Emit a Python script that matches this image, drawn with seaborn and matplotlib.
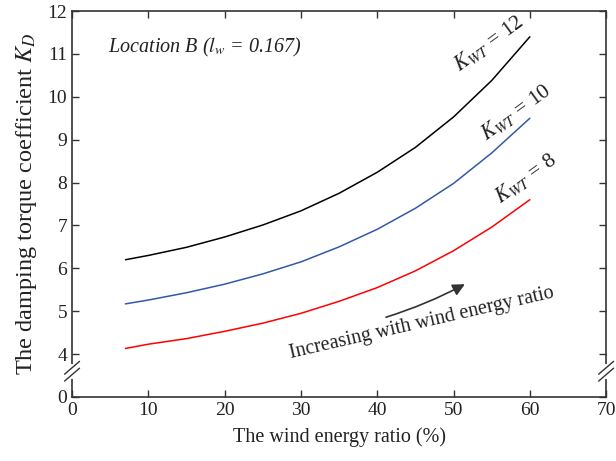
import numpy as np
import pandas as pd
import seaborn as sns
import matplotlib.pyplot as plt

# wind energy ratio (%)
ratio = [7, 10, 15, 20, 25, 30, 35, 40, 45, 50, 55, 60]
# damping torque coefficient K_D
kd_12 = [6.20, 6.30, 6.49, 6.73, 7.01, 7.34, 7.75, 8.24, 8.82, 9.53, 10.38, 11.40]
kd_10 = [5.17, 5.26, 5.43, 5.63, 5.87, 6.15, 6.50, 6.91, 7.40, 7.98, 8.69, 9.50]
kd_8 = [4.13, 4.23, 4.36, 4.53, 4.72, 4.95, 5.23, 5.55, 5.94, 6.41, 6.96, 7.60]
series_names = ['K_WT=12', 'K_WT=10', 'K_WT=8']
ytick_vals = [3, 4, 5, 6, 7, 8, 9, 10, 11, 12]
ytick_labels = ['0', '4', '5', '6', '7', '8', '9', '10', '11', '12']

df = pd.concat([
    pd.DataFrame({'ratio': ratio, 'kd': vals, 'series': name})
    for name, vals in zip(series_names, [kd_12, kd_10, kd_8])
], ignore_index=True)

sns.set_style('ticks')
plt.rcParams['font.family'] = ['Liberation Serif', 'DejaVu Serif']
plt.rcParams['mathtext.fontset'] = 'stix'

fig = plt.figure(figsize=(6.16, 4.61), dpi=100)
ax = fig.add_axes([0.117, 0.139, 0.867, 0.837])

palette = {'K_WT=12': '#000000', 'K_WT=10': '#3258a8', 'K_WT=8': '#ff0000'}
sns.lineplot(data=df, x='ratio', y='kd', hue='series', palette=palette,
             linewidth=1.1, ax=ax, legend=False)

ax.set_xlim(0, 70)
ax.set_ylim(3, 12)
ax.set_xticks(range(0, 71, 10))
ax.set_yticks(ytick_vals)
ax.set_yticklabels(ytick_labels)
ax.tick_params(direction='in', length=5, width=1, colors='#333333',
               labelcolor='#222222', labelsize=14, top=True, right=True)
for s in ax.spines.values():
    s.set_color('#333333')
    s.set_linewidth(1.2)
ax.set_xlabel('The wind energy ratio (%)', fontsize=14.5, color='#222222', labelpad=6)
ax.set_ylabel('The damping torque coefficient $K_D$', fontsize=17.5, color='#222222', labelpad=6)

# axis break marks on left and right spines
yb = 3.6
trans = ax.get_yaxis_transform()
for xs in (0, 1):
    ax.plot([xs, xs], [yb - 0.13, yb + 0.13], color='white', lw=3,
            transform=trans, clip_on=False, zorder=5)
    for dy in (-0.08, 0.08):
        ax.plot([xs - 0.014, xs + 0.014], [yb + dy - 0.15, yb + dy + 0.15],
                color='#333333', lw=1, transform=trans, clip_on=False, zorder=6)

ax.text(4.7, 11.14, 'Location B ($l_w$ = 0.167)', fontsize=14.5,
        style='italic', ha='left', va='center', color='#222222')

ax.text(54.6, 11.25, '$K_{WT}$ = 12', fontsize=15.5, rotation=36,
        ha='center', va='center', color='#222222')
ax.text(58.2, 9.65, '$K_{WT}$ = 10', fontsize=15.5, rotation=36,
        ha='center', va='center', color='#222222')
ax.text(59.4, 8.1, '$K_{WT}$ = 8', fontsize=15.5, rotation=36,
        ha='center', va='center', color='#222222')

ax.annotate('', xy=(51.8, 5.66), xytext=(40.8, 4.84),
            arrowprops=dict(arrowstyle='-|>', color='#333333', lw=1.2,
                            mutation_scale=18, connectionstyle='arc3,rad=0.05'))
ax.text(45.8, 4.72, 'Increasing with wind energy ratio', fontsize=14.5,
        rotation=13, ha='center', va='center', color='#222222')

fig.savefig('out.png', dpi=100)
